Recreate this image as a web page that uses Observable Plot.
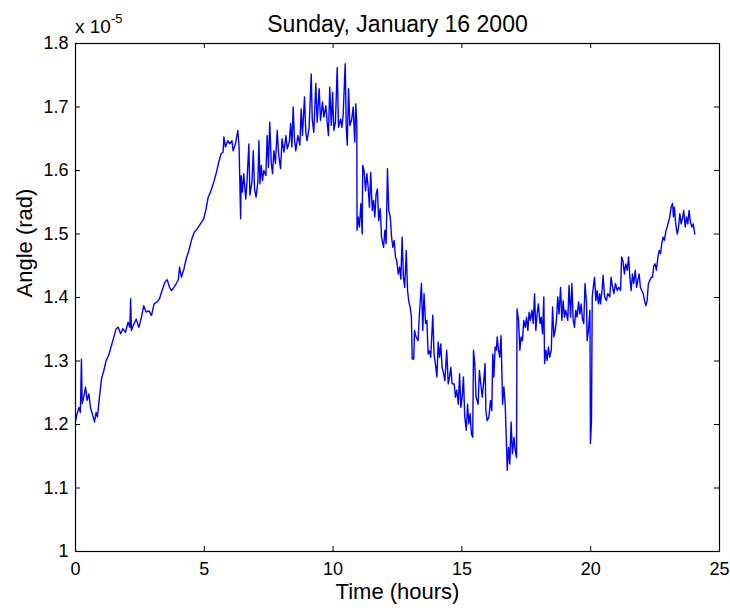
<!DOCTYPE html>
<html>
<head>
<meta charset="utf-8">
<script src="https://cdn.jsdelivr.net/npm/d3@7"></script>
<script src="https://cdn.jsdelivr.net/npm/@observablehq/plot@0.6"></script>
<style>
  html, body { margin: 0; padding: 0; background: white; }
  #chart { width: 730px; height: 610px; }
</style>
</head>
<body>
<div id="chart"></div>
<script>
// ---- Data (angle in units of 1e-5 rad) ----
const title = "Sunday, January 16 2000";
const xLabel = "Time (hours)";
const yLabel = "Angle (rad)";
const exponentBase = "x 10";
const exponentPower = "-5";

const xTicks = [0, 5, 10, 15, 20, 25];
const yTicks = [1, 1.1, 1.2, 1.3, 1.4, 1.5, 1.6, 1.7, 1.8];
const yTickLabels = ["1", "1.1", "1.2", "1.3", "1.4", "1.5", "1.6", "1.7", "1.8"];

const hours = [
  // 0 - 5.2 h
  0, 0.065, 0.13, 0.19, 0.23, 0.26, 0.32, 0.39, 0.45, 0.52, 0.58, 0.65, 0.74, 0.80, 0.85, 0.93,
  1.01, 1.10, 1.19, 1.29, 1.38, 1.49, 1.58, 1.66, 1.75, 1.84, 1.94, 2.04, 2.11, 2.14, 2.17, 2.26,
  2.36, 2.46, 2.56, 2.65, 2.74, 2.85, 2.95, 3.05, 3.17, 3.26, 3.36, 3.47, 3.56, 3.65, 3.73, 3.82,
  3.91, 3.99, 4.04, 4.11, 4.21, 4.30, 4.40, 4.50, 4.61, 4.72, 4.85, 4.98, 5.07, 5.15,
  // 5.2 - 10.9 h
  5.24, 5.37, 5.47, 5.56, 5.65, 5.73, 5.76, 5.82, 5.91, 5.99, 6.07, 6.12, 6.21, 6.30, 6.35, 6.41,
  6.43, 6.48, 6.53, 6.61, 6.66, 6.73, 6.77, 6.85, 6.90, 6.95, 7.01, 7.08, 7.12, 7.16, 7.21, 7.26,
  7.31, 7.39, 7.44, 7.49, 7.54, 7.60, 7.65, 7.70, 7.76, 7.83, 7.89, 7.96, 8.02, 8.09, 8.17, 8.22,
  8.30, 8.35, 8.40, 8.45, 8.50, 8.55, 8.63, 8.71, 8.76, 8.81, 8.89, 8.94, 8.99, 9.07, 9.15, 9.19,
  9.25, 9.33, 9.38, 9.46, 9.51, 9.59, 9.64, 9.72, 9.77, 9.82, 9.87, 9.93, 9.98, 10.03, 10.09, 10.16,
  10.21, 10.29, 10.34, 10.39, 10.47, 10.51, 10.55, 10.60, 10.65, 10.72, 10.78, 10.84, 10.88, 10.92,
  // 10.9 - 15.7 h
  10.93, 10.97, 11.02, 11.08, 11.13, 11.15, 11.20, 11.26, 11.31, 11.36, 11.41, 11.46, 11.52, 11.57,
  11.62, 11.67, 11.72, 11.77, 11.83, 11.88, 11.96, 12.01, 12.06, 12.11, 12.16, 12.22, 12.27, 12.32,
  12.37, 12.42, 12.47, 12.53, 12.58, 12.63, 12.68, 12.73, 12.78, 12.84, 12.89, 12.94, 12.99, 13.04,
  13.07, 13.13, 13.16, 13.22, 13.30, 13.35, 13.43, 13.48, 13.53, 13.59, 13.64, 13.69, 13.74, 13.79,
  13.87, 13.92, 13.97, 14.03, 14.08, 14.13, 14.18, 14.23, 14.29, 14.34, 14.41, 14.47, 14.52, 14.57,
  14.62, 14.70, 14.75, 14.80, 14.86, 14.91, 14.96, 15.01, 15.06, 15.11, 15.17, 15.22, 15.27, 15.32,
  15.37, 15.42, 15.45, 15.50, 15.55, 15.63, 15.68,
  // 15.7 - 20.4 h
  15.72, 15.79, 15.85, 15.90, 15.93, 15.98, 16.05, 16.11, 16.16, 16.20, 16.24, 16.29, 16.34, 16.37,
  16.42, 16.47, 16.52, 16.55, 16.58, 16.63, 16.68, 16.73, 16.76, 16.81, 16.86, 16.91, 16.96, 17.02,
  17.07, 17.12, 17.14, 17.20, 17.25, 17.30, 17.35, 17.40, 17.46, 17.51, 17.56, 17.61, 17.66, 17.72,
  17.77, 17.82, 17.87, 17.92, 17.97, 18.03, 18.08, 18.13, 18.18, 18.21, 18.26, 18.31, 18.36, 18.41,
  18.47, 18.52, 18.57, 18.62, 18.67, 18.72, 18.77, 18.83, 18.88, 18.93, 18.98, 19.03, 19.11, 19.16,
  19.22, 19.27, 19.32, 19.37, 19.42, 19.47, 19.53, 19.58, 19.63, 19.68, 19.73, 19.78, 19.84, 19.86,
  19.91, 19.97, 19.99, 20.03, 20.06, 20.10, 20.15, 20.20, 20.25, 20.30, 20.35,
  // 20.4 - 24 h
  20.38, 20.44, 20.48, 20.54, 20.61, 20.66, 20.74, 20.79, 20.85, 20.90, 20.96, 21.03, 21.09, 21.16,
  21.20, 21.25, 21.31, 21.36, 21.42, 21.47, 21.52, 21.57, 21.62, 21.67, 21.73, 21.78, 21.83, 21.88,
  21.93, 21.98, 22.04, 22.09, 22.14, 22.19, 22.24, 22.30, 22.35, 22.40, 22.45, 22.50, 22.55, 22.61,
  22.66, 22.71, 22.76, 22.81, 22.86, 22.92, 22.97, 23.02, 23.07, 23.12, 23.18, 23.21, 23.25, 23.30,
  23.36, 23.41, 23.46, 23.51, 23.56, 23.61, 23.67, 23.72, 23.77, 23.82, 23.87, 23.93, 23.98, 24.04
];

const angle = [
  // 0 - 5.2 h
  1.206, 1.217, 1.227, 1.219, 1.303, 1.233, 1.243, 1.259, 1.238, 1.248, 1.227, 1.217, 1.204, 1.219, 1.212, 1.243,
  1.272, 1.285, 1.301, 1.309, 1.322, 1.338, 1.351, 1.353, 1.343, 1.351, 1.345, 1.361, 1.353, 1.398, 1.348, 1.358,
  1.366, 1.353, 1.369, 1.387, 1.377, 1.379, 1.372, 1.390, 1.393, 1.398, 1.411, 1.424, 1.428, 1.416, 1.411, 1.416,
  1.422, 1.428, 1.448, 1.432, 1.445, 1.461, 1.474, 1.490, 1.503, 1.508, 1.516, 1.524, 1.540, 1.558,
  // 5.2 - 10.9 h
  1.566, 1.582, 1.597, 1.613, 1.626, 1.629, 1.653, 1.637, 1.647, 1.642, 1.647, 1.631, 1.642, 1.663, 1.637, 1.524,
  1.592, 1.566, 1.595, 1.555, 1.584, 1.642, 1.561, 1.582, 1.631, 1.571, 1.558, 1.582, 1.647, 1.579, 1.608, 1.584,
  1.600, 1.592, 1.655, 1.605, 1.676, 1.611, 1.595, 1.631, 1.611, 1.663, 1.624, 1.603, 1.650, 1.629, 1.655, 1.634,
  1.645, 1.674, 1.637, 1.700, 1.650, 1.631, 1.655, 1.640, 1.697, 1.655, 1.716, 1.660, 1.647, 1.668, 1.752, 1.681,
  1.660, 1.737, 1.676, 1.729, 1.679, 1.708, 1.684, 1.702, 1.676, 1.655, 1.731, 1.671, 1.723, 1.663, 1.676, 1.762,
  1.668, 1.681, 1.668, 1.687, 1.768, 1.668, 1.640, 1.729, 1.671, 1.680, 1.700, 1.645, 1.705, 1.675,
  // 10.9 - 15.7 h
  1.506, 1.527, 1.511, 1.548, 1.500, 1.608, 1.600, 1.568, 1.595, 1.574, 1.542, 1.597, 1.537, 1.553,
  1.527, 1.563, 1.571, 1.521, 1.540, 1.495, 1.479, 1.506, 1.485, 1.603, 1.537, 1.527, 1.495, 1.479,
  1.490, 1.464, 1.458, 1.437, 1.448, 1.429, 1.495, 1.432, 1.416, 1.474, 1.411, 1.393, 1.385, 1.369,
  1.303, 1.303, 1.348, 1.338, 1.332, 1.374, 1.422, 1.348, 1.406, 1.359, 1.364, 1.311, 1.316, 1.306,
  1.372, 1.311, 1.296, 1.275, 1.330, 1.306, 1.327, 1.290, 1.280, 1.269, 1.317, 1.264, 1.275, 1.290,
  1.264, 1.264, 1.243, 1.254, 1.232, 1.280, 1.227, 1.243, 1.275, 1.212, 1.191, 1.232, 1.201, 1.217,
  1.185, 1.180, 1.317, 1.296, 1.243, 1.232, 1.285,
  // 15.7 - 20.4 h
  1.269, 1.243, 1.269, 1.296, 1.222, 1.206, 1.212, 1.238, 1.222, 1.311, 1.275, 1.322, 1.317, 1.338,
  1.317, 1.306, 1.340, 1.285, 1.232, 1.259, 1.232, 1.170, 1.128, 1.164, 1.138, 1.204, 1.154, 1.180,
  1.159, 1.148, 1.382, 1.364, 1.317, 1.338, 1.332, 1.364, 1.353, 1.369, 1.348, 1.377, 1.364, 1.380,
  1.359, 1.406, 1.348, 1.374, 1.390, 1.359, 1.369, 1.343, 1.401, 1.296, 1.317, 1.301, 1.322, 1.306,
  1.317, 1.385, 1.338, 1.348, 1.364, 1.401, 1.374, 1.416, 1.364, 1.395, 1.369, 1.380, 1.364, 1.419,
  1.369, 1.422, 1.364, 1.353, 1.380, 1.369, 1.393, 1.374, 1.390, 1.366, 1.359, 1.422, 1.390, 1.332,
  1.348, 1.380, 1.170, 1.206, 1.401, 1.416, 1.432, 1.395, 1.411, 1.390, 1.406,
  // 20.4 - 24 h
  1.390, 1.411, 1.435, 1.401, 1.395, 1.406, 1.401, 1.432, 1.416, 1.406, 1.422, 1.411, 1.416, 1.411,
  1.464, 1.458, 1.437, 1.453, 1.443, 1.464, 1.432, 1.411, 1.437, 1.422, 1.443, 1.416, 1.427, 1.437,
  1.416, 1.411, 1.406, 1.395, 1.387, 1.395, 1.422, 1.427, 1.432, 1.432, 1.450, 1.453, 1.443, 1.464,
  1.474, 1.469, 1.485, 1.495, 1.490, 1.505, 1.511, 1.519, 1.527, 1.542, 1.548, 1.527, 1.542, 1.516,
  1.500, 1.511, 1.532, 1.516, 1.524, 1.537, 1.511, 1.527, 1.516, 1.537, 1.519, 1.511, 1.516, 1.500
];

const series = hours.map((t, i) => ({t, v: angle[i]}));

// ---- Layout ----
const W = 730, H = 610;
const mL = 75, mR = 11, mT = 43, mB = 59;
const frameW = W - mL - mR, frameH = H - mT - mB;
const tickLen = 5;
const font = "'Liberation Sans', Arial, Helvetica, sans-serif";
const labelFor = d => yTickLabels[yTicks.indexOf(d)];

const plot = Plot.plot({
  width: W,
  height: H,
  marginLeft: mL,
  marginRight: mR,
  marginTop: mT,
  marginBottom: mB,
  style: {fontFamily: font, fontSize: "17px", background: "white", color: "black", overflow: "visible"},
  x: {domain: [0, 25]},
  y: {domain: [1, 1.8]},
  marks: [
    Plot.line(series, {x: "t", y: "v", stroke: "#0000ff", strokeWidth: 1.4}),
    Plot.frame({stroke: "black", strokeWidth: 1.2}),
    // inward ticks, MATLAB box style
    Plot.tickX(xTicks, {x: d => d, insetTop: frameH - tickLen, stroke: "black"}),
    Plot.tickX(xTicks, {x: d => d, insetBottom: frameH - tickLen, stroke: "black"}),
    Plot.tickY(yTicks, {y: d => d, insetRight: frameW - tickLen, stroke: "black"}),
    Plot.tickY(yTicks, {y: d => d, insetLeft: frameW - tickLen, stroke: "black"}),
    Plot.axisX(xTicks, {tickSize: 0, tickPadding: 11, fontSize: 18, label: null}),
    Plot.axisY(yTicks, {tickSize: 0, tickPadding: 7, fontSize: 18, tickFormat: labelFor, label: null}),
    Plot.text([title], {frameAnchor: "top", dy: -28, fontSize: 23, fill: "black"}),
    Plot.text([xLabel], {frameAnchor: "bottom", dy: 47, fontSize: 22, fill: "black"}),
    Plot.text([yLabel], {frameAnchor: "left", dx: -51, rotate: -90, fontSize: 22, fill: "black"})
  ]
});

document.getElementById("chart").appendChild(plot);

// exponent label "x 10^-5" placed relative to the top-left of the axes
const svg = d3.select(plot.tagName.toLowerCase() === "svg" ? plot : plot.querySelector("svg"));
const x0 = plot.scale("x").apply(0);
const yTop = plot.scale("y").apply(1.8);
const ex = svg.append("text")
  .attr("x", x0)
  .attr("y", yTop - 10)
  .attr("text-anchor", "start")
  .attr("font-family", font)
  .attr("font-size", 19)
  .attr("fill", "black");
ex.append("tspan").text(exponentBase);
ex.append("tspan").attr("dy", -10).attr("font-size", 13).text(exponentPower);
</script>
</body>
</html>
